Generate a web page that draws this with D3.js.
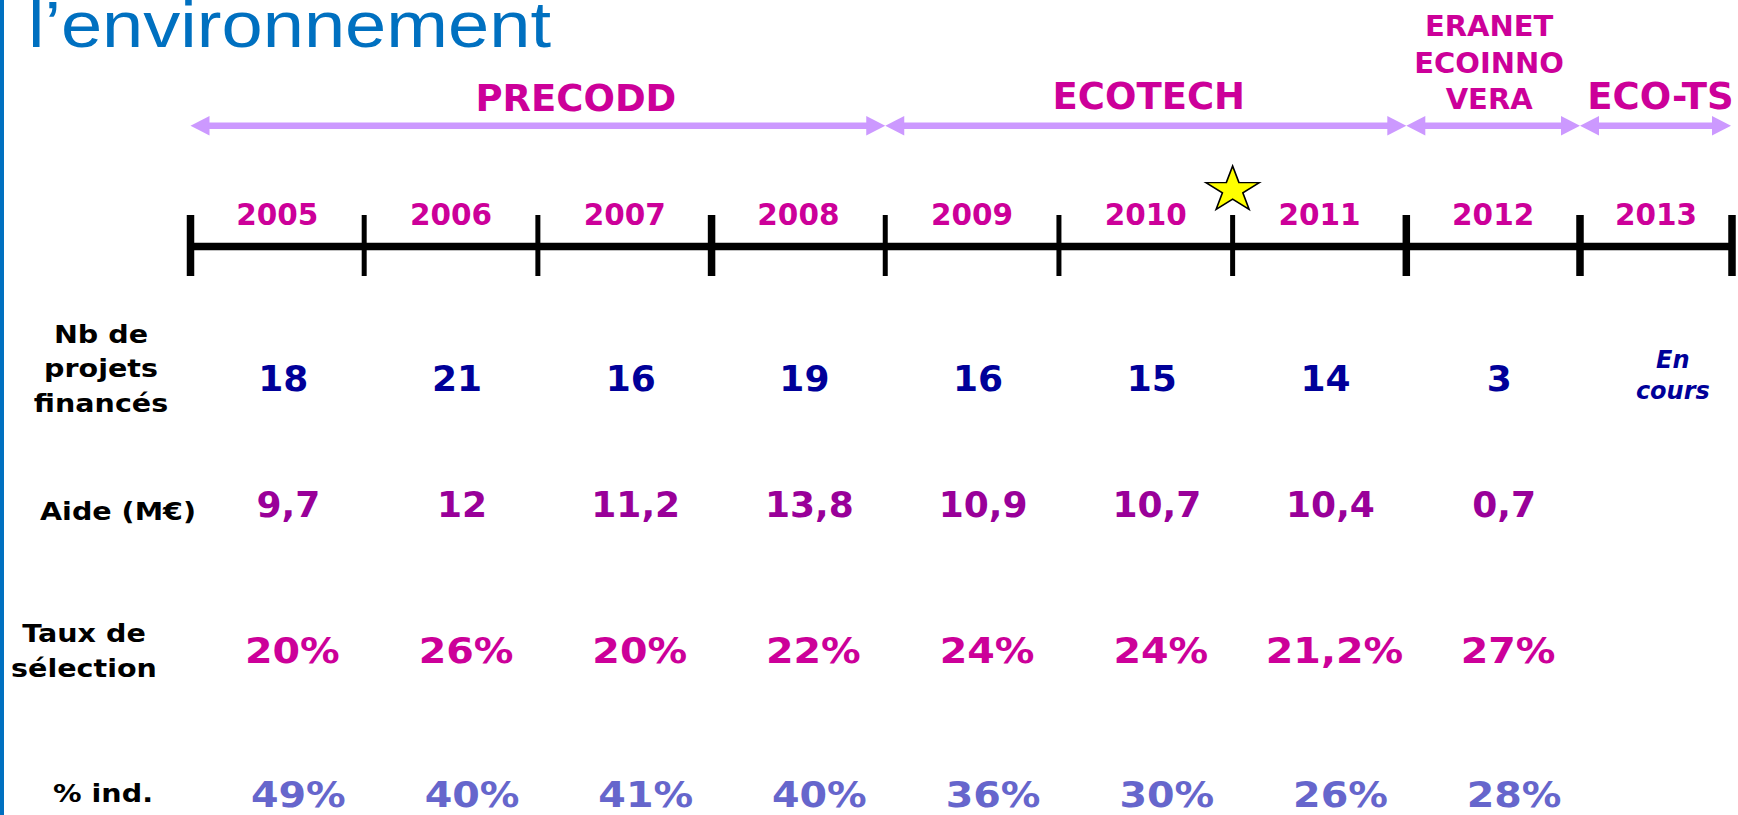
<!DOCTYPE html>
<html>
<head>
<meta charset="utf-8">
<script src="https://cdn.jsdelivr.net/npm/d3@7"></script>
<style>
  body { margin: 0; background: #fff; overflow: hidden; }
  svg { display: block; }
</style>
</head>
<body>
<script>
// timeline
const years = [2005, 2006, 2007, 2008, 2009, 2010, 2011, 2012, 2013];
const boldTickYears = [2005, 2008, 2012, 2013];
const starYear = 2011;

// programmes
const programNames = [["PRECODD"], ["ECOTECH"], ["ERANET", "ECOINNO", "VERA"], ["ECO-TS"]];
const programStart = [2005, 2009, 2012, 2013];
const programEnd = [2009, 2012, 2013, 2014];

// table rows
const rowLabels = [["Nb de", "projets", "financés"], ["Aide (M€)"], ["Taux de", "sélection"], ["% ind."]];
const nbProjets = [18, 21, 16, 19, 16, 15, 14, 3, null];   // null = "En cours"
const aideMEur = [9.7, 12, 11.2, 13.8, 10.9, 10.7, 10.4, 0.7];
const tauxSelection = [20, 26, 20, 22, 24, 24, 21.2, 27];
const pctInd = [49, 40, 41, 40, 36, 30, 26, 28];

const width = 1738, height = 815;
const bold = "'DejaVu Sans', Verdana, sans-serif";

const fr = d3.formatLocale({ decimal: ",", thousands: " ", grouping: [3], currency: ["", " €"] });
const num = fr.format("~g");
const pct = d => num(d) + "%";

const svg = d3.select("body").append("svg")
    .attr("width", width)
    .attr("height", height);

// left blue rule
svg.append("rect").attr("x", 0).attr("y", 0).attr("width", 4).attr("height", height).attr("fill", "#0070c0");

// title (cut off at the top in the original)
svg.append("text")
    .attr("x", 28).attr("y", 47)
    .attr("textLength", 523).attr("lengthAdjust", "spacingAndGlyphs")
    .style("font-family", "'Liberation Sans', Arial, sans-serif")
    .style("font-size", "64px")
    .attr("fill", "#0070c0")
    .text("l’environnement");

const lineEnd = 1732;
const x = d3.scaleLinear().domain([2005, 2013]).range([190.5, 1580]);
const xc = v => Math.min(x(v), lineEnd);

// programme arrows
const arrowY = 125.7, head = 19, headH = 9.7;
const arrowColor = "#cc99ff";
const labelNudge = [38, 3, -4, 5];   // label offsets from arrow centre, as on the slide
const labelBase = [111, 108.5, 109, 108.5];
const progs = programNames.map((n, i) => ({
  name: n, i,
  x0: xc(programStart[i]),
  x1: xc(programEnd[i]) - (programEnd[i] > 2013 ? 1 : 0)
}));

const arrows = svg.append("g");
arrows.selectAll("line").data(progs).join("line")
    .attr("x1", d => d.x0 + head - 1).attr("x2", d => d.x1 - head + 1)
    .attr("y1", arrowY).attr("y2", arrowY)
    .attr("stroke", arrowColor).attr("stroke-width", 6.5);
arrows.selectAll("path.l").data(progs).join("path").attr("class", "l")
    .attr("d", d => `M${d.x0},${arrowY}L${d.x0 + head},${arrowY - headH}L${d.x0 + head},${arrowY + headH}Z`)
    .attr("fill", arrowColor);
arrows.selectAll("path.r").data(progs).join("path").attr("class", "r")
    .attr("d", d => `M${d.x1},${arrowY}L${d.x1 - head},${arrowY - headH}L${d.x1 - head},${arrowY + headH}Z`)
    .attr("fill", arrowColor);

// programme names
const progLabel = svg.append("g").selectAll("text").data(progs).join("text")
    .attr("text-anchor", "middle")
    .attr("fill", "#cc0099")
    .style("font-family", bold).style("font-weight", "bold")
    .style("font-size", d => d.name.length > 1 ? "29px" : "37px");
progLabel.selectAll("tspan")
    .data(d => d.name.map((t, j) => ({ t, j, n: d.name.length, cx: (d.x0 + d.x1) / 2 + labelNudge[d.i], yb: labelBase[d.i] })))
    .join("tspan")
    .attr("x", d => d.cx)
    .attr("y", d => d.yb - (d.n - 1 - d.j) * 36.5)
    .text(d => d.t);

// timeline axis line
const axisY = 246.5;
svg.append("line")
    .attr("x1", x(2005)).attr("x2", lineEnd)
    .attr("y1", axisY).attr("y2", axisY)
    .attr("stroke", "#000").attr("stroke-width", 7.5);

const tickVals = years.concat([2014]);
svg.append("g").selectAll("line").data(tickVals).join("line")
    .attr("x1", d => xc(d)).attr("x2", d => xc(d))
    .attr("y1", 215).attr("y2", 276)
    .attr("stroke", "#000")
    .attr("stroke-width", d => (boldTickYears.includes(d) || d > 2013) ? 7.5 : 5);

// year labels
svg.append("g").selectAll("text").data(years).join("text")
    .attr("x", d => (xc(d) + xc(d + 1)) / 2)
    .attr("y", 225)
    .attr("text-anchor", "middle")
    .attr("fill", "#cc0099")
    .style("font-family", bold).style("font-weight", "bold").style("font-size", "29.5px")
    .text(d => d);

// star marker
svg.append("path")
    .attr("d", d3.symbol(d3.symbolStar, 646))
    .attr("transform", `translate(${x(starYear)},190) scale(1.17,1)`)
    .attr("fill", "#ffff00").attr("stroke", "#000").attr("stroke-width", 1.4);

// table rows
const rows = [
  { labels: rowLabels[0], values: nbProjets, fmt: num, color: "#000099", base: 391, lx: 101, lys: [343, 377, 412], dx: 6, sx: 1 },
  { labels: rowLabels[1], values: aideMEur, fmt: num, color: "#990099", base: 517, lx: 118, lys: [520], dx: 11, sx: 1 },
  { labels: rowLabels[2], values: tauxSelection, fmt: pct, color: "#cc0099", base: 663, lx: 84, lys: [642, 677], dx: 15, sx: 1.1 },
  { labels: rowLabels[3], values: pctInd, fmt: pct, color: "#6666cc", base: 807, lx: 103, lys: [802], dx: 21, sx: 1.1 }
];

rows.forEach(r => {
  const g = svg.append("g");
  // row header
  g.selectAll("text.lab").data(r.labels).join("text").attr("class", "lab")
      .attr("transform", (d, i) => `translate(${r.lx},${r.lys[i]}) scale(1.12,1)`)
      .attr("text-anchor", "middle")
      .attr("fill", "#000")
      .style("font-family", bold).style("font-weight", "bold").style("font-size", "25.5px")
      .text(d => d);

  const cells = r.values.map((v, i) => ({ v, year: years[i] }));
  g.selectAll("text.val").data(cells.filter(c => c.v !== null)).join("text").attr("class", "val")
      .attr("transform", d => `translate(${x(d.year + 0.5) + r.dx},${r.base}) scale(${r.sx},1)`)
      .attr("text-anchor", "middle")
      .attr("fill", r.color)
      .style("font-family", bold).style("font-weight", "bold").style("font-size", "36px")
      .text(d => r.fmt(d.v));

  // pending year
  const pending = cells.filter(c => c.v === null);
  g.selectAll("text.pend").data(pending).join("text").attr("class", "pend")
      .attr("text-anchor", "middle")
      .attr("fill", r.color)
      .style("font-family", bold).style("font-weight", "bold").style("font-style", "italic").style("font-size", "24px")
      .selectAll("tspan").data(d => [["En", d.year, 0], ["cours", d.year, 1]]).join("tspan")
      .attr("x", d => x(d[1] + 0.5) + r.dx)
      .attr("y", d => 368 + d[2] * 31)
      .text(d => d[0]);
});
</script>
</body>
</html>
